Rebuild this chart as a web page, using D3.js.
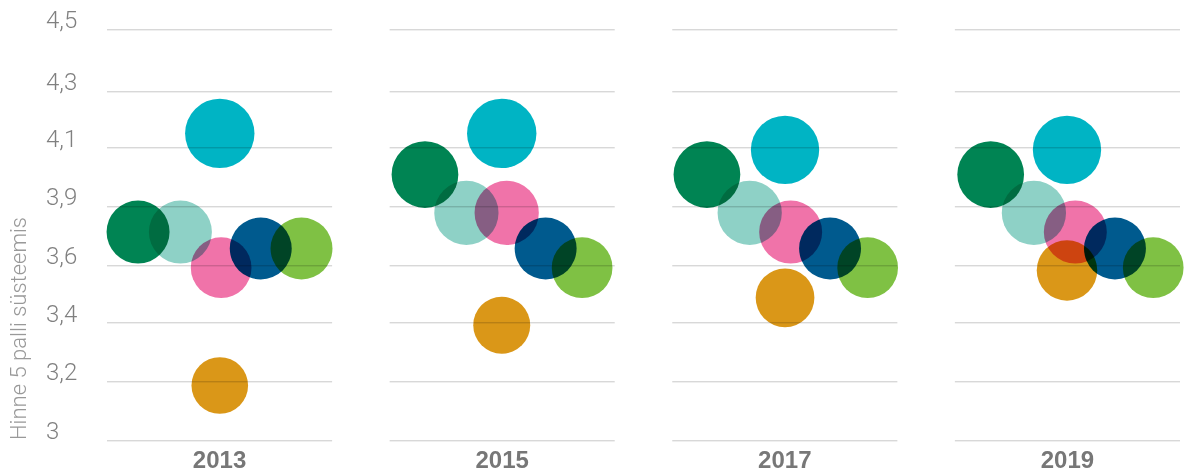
<!DOCTYPE html>
<html>
<head>
<meta charset="utf-8">
<script src="https://cdn.jsdelivr.net/npm/d3@7"></script>
<style>
  body { margin: 0; background: #fff; }
  svg { display: block; }
  .dot { mix-blend-mode: multiply; }
</style>
</head>
<body>
<svg id="chart" width="1186" height="474"></svg>
<script>
// years = one panel each
var years = ["2013", "2015", "2017", "2019"]

// series in drawing order
var seriesNames = ["Seeria 1", "Seeria 2", "Seeria 3", "Seeria 4", "Seeria 5", "Seeria 6", "Seeria 7"]
var seriesColors = ["#008453", "#8ed1c6", "#00b4c4", "#f073a9", "#da9718", "#005a8e", "#7fc144"]

// average grade per series, one value per year
var values1 = [3.76, 3.97, 3.97, 3.97]
var values2 = [3.76, 3.83, 3.83, 3.83]
var values3 = [4.12, 4.12, 4.06, 4.06]
var values4 = [3.63, 3.83, 3.76, 3.76]
var values5 = [3.20, 3.42, 3.52, 3.62]
var values6 = [3.70, 3.70, 3.70, 3.70]
var values7 = [3.70, 3.63, 3.63, 3.63]

// horizontal place inside each year group (0-100)
var place1 = [13.8, 15.7, 15.4, 15.9]
var place2 = [32.6, 34.1, 34.4, 35.1]
var place3 = [50.1, 49.8, 50.1, 49.8]
var place4 = [50.7, 52.0, 52.6, 53.5]
var place5 = [50.1, 49.8, 50.1, 49.8]
var place6 = [68.3, 69.3, 70.1, 71.1]
var place7 = [86.4, 85.5, 86.8, 88.1]

// y axis
var tickValues = [3, 3.216, 3.429, 3.639, 3.854, 4.068, 4.275, 4.5]
var tickLabels = ["3", "3,2", "3,4", "3,6", "3,9", "4,1", "4,3", "4,5"]
var yTitle = "Hinne 5 palli süsteemis"

var allValues = [values1, values2, values3, values4, values5, values6, values7]
var allPlaces = [place1, place2, place3, place4, place5, place6, place7]

var points = []
seriesNames.forEach(function(name, s) {
  years.forEach(function(year, i) {
    points.push({ series: name, color: seriesColors[s], year: year, value: allValues[s][i], place: allPlaces[s][i] })
  })
})

var margin = { top: 29.3, right: 6, bottom: 33.7, left: 107 }
var width = 1186 - margin.left - margin.right
var height = 474 - margin.top - margin.bottom

var svg = d3.select("#chart")
var g = svg.append("g").attr("transform", "translate(" + margin.left + "," + margin.top + ")")

var x = d3.scaleBand()
  .domain(years)
  .range([0, width])
  .paddingInner(0.2035)
  .paddingOuter(0)

var xIn = d3.scaleLinear()
  .domain([0, 100])
  .range([0, x.bandwidth()])

var y = d3.scaleLinear()
  .domain([3, 4.5])
  .range([height, 0])

// bubble radius grows with the grade
var r = d3.scaleLinear()
  .domain([3.4, 4.12])
  .range([28.3, 34.7])
  .clamp(true)

// bubbles
g.selectAll(".dot")
  .data(points)
  .join("circle")
  .attr("class", "dot")
  .attr("cx", function(d) { return x(d.year) + xIn(d.place) })
  .attr("cy", function(d) { return y(d.value) })
  .attr("r", function(d) { return r(d.value) })
  .style("fill", function(d) { return d.color })

// gridlines per panel, drawn on top of the bubbles
years.forEach(function(year) {
  g.append("g")
    .selectAll("line")
    .data(tickValues)
    .join("line")
    .attr("x1", x(year))
    .attr("x2", x(year) + x.bandwidth())
    .attr("y1", function(d) { return Math.round(y(d)) + 0.5 })
    .attr("y2", function(d) { return Math.round(y(d)) + 0.5 })
    .style("stroke", "#000")
    .style("stroke-opacity", 0.22)
    .style("stroke-width", 1)
})

// y tick labels
g.append("g")
  .selectAll("text")
  .data(tickValues)
  .join("text")
  .attr("x", 46 - margin.left)
  .attr("y", function(d) { return y(d) - 1 })
  .text(function(d, i) { return tickLabels[i] })
  .style("font-family", "Roboto, 'Open Sans', sans-serif")
  .style("font-weight", 300)
  .style("font-size", "24px")
  .style("fill", "#808080")

// y title
svg.append("text")
  .attr("transform", "translate(26,440) rotate(-90)")
  .text(yTitle)
  .style("font-family", "Roboto, 'Open Sans', sans-serif")
  .style("font-weight", 300)
  .style("font-size", "22px")
  .style("fill", "#999")

// year labels
g.append("g")
  .selectAll("text")
  .data(years)
  .join("text")
  .attr("x", function(d) { return x(d) + x.bandwidth() / 2 })
  .attr("y", height + 28)
  .attr("text-anchor", "middle")
  .text(function(d) { return d })
  .style("font-family", "'Liberation Sans', Arial, sans-serif")
  .style("font-weight", 700)
  .style("font-size", "24px")
  .style("fill", "#777")
</script>
</body>
</html>
